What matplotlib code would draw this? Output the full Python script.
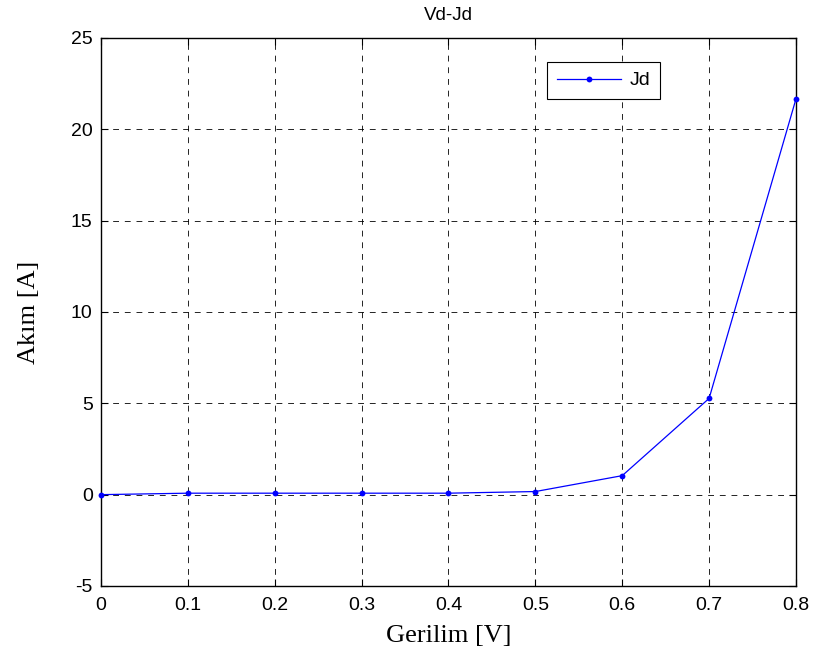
import matplotlib
matplotlib.use("Agg")
import matplotlib.pyplot as plt

# Data
vd = [0.0, 0.1, 0.2, 0.3, 0.4, 0.5, 0.6, 0.7, 0.8]
jd = [0.0, 0.08, 0.08, 0.08, 0.08, 0.17, 1.04, 5.27, 21.67]

x_ticks = [0, 0.1, 0.2, 0.3, 0.4, 0.5, 0.6, 0.7, 0.8]
x_labels = ["0", "0.1", "0.2", "0.3", "0.4", "0.5", "0.6", "0.7", "0.8"]
y_ticks = [-5, 0, 5, 10, 15, 20, 25]
y_labels = ["-5", "0", "5", "10", "15", "20", "25"]

fig = plt.figure(figsize=(8.17, 6.64), dpi=100)
ax = fig.add_axes([0.1236, 0.1175, 0.8507, 0.8253])

ax.plot(vd, jd, color="blue", linewidth=0.9, marker="o", markersize=4.2,
        markeredgewidth=0, label="Jd", clip_on=False, zorder=3)

ax.set_xlim(0, 0.8)
ax.set_ylim(-5, 25)
ax.set_xticks(x_ticks)
ax.set_xticklabels(x_labels, fontfamily="Liberation Sans", fontsize=14)
ax.set_yticks(y_ticks)
ax.set_yticklabels(y_labels, fontfamily="Liberation Sans", fontsize=14)
ax.tick_params(direction="in", length=5, width=0.8, top=True, right=True)
ax.tick_params(axis="x", pad=8)
ax.tick_params(axis="y", pad=6)

ax.grid(True, color="black", linestyle=(0, (7, 7)), linewidth=0.6)
for s in ax.spines.values():
    s.set_linewidth(1.0)

ax.set_title("Vd-Jd", fontfamily="Liberation Sans", fontsize=13.5, pad=13)
ax.set_xlabel("Gerilim [V]", fontfamily="Liberation Serif", fontsize=19)
ax.set_ylabel("Akım [A]", fontfamily="Liberation Serif", fontsize=19)
ax.xaxis.set_label_coords(0.5, -0.072)
ax.yaxis.set_label_coords(-0.088, 0.5)

leg = ax.legend(loc="upper left", bbox_to_anchor=(0.642, 0.956), fancybox=False,
                edgecolor="black", framealpha=1, borderpad=0.5, borderaxespad=0,
                handlelength=3.3, handletextpad=0.45,
                prop={"family": "Liberation Sans", "size": 14})
leg.get_frame().set_linewidth(0.8)

fig.savefig("out.png", dpi=100)
